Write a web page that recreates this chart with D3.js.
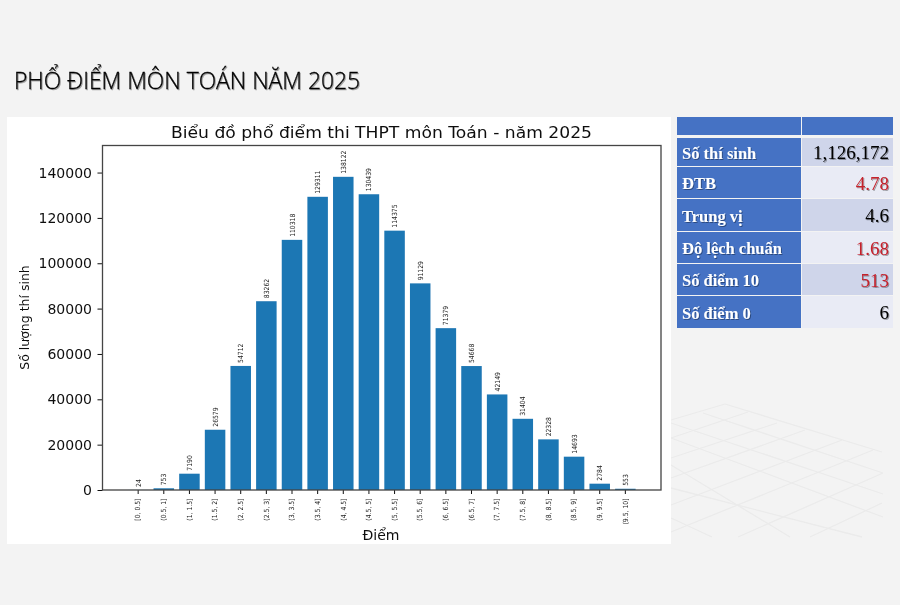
<!DOCTYPE html>
<html><head><meta charset="utf-8">
<script src="https://cdn.jsdelivr.net/npm/d3@7/dist/d3.min.js"></script>
<style>
html,body{margin:0;padding:0;background:#f3f3f3;}
svg{display:block;}
text{font-family:"DejaVu Sans",sans-serif;}
</style></head><body><div id="chart"></div>
<script>
const bins=["[0, 0.5]","(0.5, 1]","(1, 1.5]","(1.5, 2]","(2, 2.5]","(2.5, 3]","(3, 3.5]","(3.5, 4]","(4, 4.5]","(4.5, 5]","(5, 5.5]","(5.5, 6]","(6, 6.5]","(6.5, 7]","(7, 7.5]","(7.5, 8]","(8, 8.5]","(8.5, 9]","(9, 9.5]","(9.5, 10]"];
const counts=[24,753,7190,26579,54712,83262,110318,129311,138122,130439,114375,91129,71379,54668,42149,31404,22328,14693,2784,553];
const yTicks=[0,20000,40000,60000,80000,100000,120000,140000];
const statLabels=["Số thí sinh","ĐTB","Trung vị","Độ lệch chuẩn","Số điểm 10","Số điểm 0"];
const statValues=["1,126,172","4.78","4.6","1.68","513","6"];
const statRed=[false,true,false,true,true,false];
const pageTitle="PHỔ ĐIỂM MÔN TOÁN NĂM 2025";
const chartTitle="Biểu đồ phổ điểm thi THPT môn Toán - năm 2025";

const svg=d3.select("#chart").append("svg").attr("width",900).attr("height",605);
const defs=svg.append("defs");
const blur=defs.append("filter").attr("id","soft").attr("x","-5%").attr("y","-5%").attr("width","110%").attr("height","110%");
blur.append("feGaussianBlur").attr("stdDeviation",0.4);
const sh=defs.append("filter").attr("id","shadow").attr("x","-5%").attr("y","-20%").attr("width","110%").attr("height","140%");
sh.append("feDropShadow").attr("dx",1).attr("dy",1).attr("stdDeviation",0.7).attr("flood-color","#000").attr("flood-opacity",0.35);

svg.append("rect").attr("width",900).attr("height",605).attr("fill","#f3f3f3");

// decorative floor grid
const floor=[[725,404,882,452],[703,413,883,473],[671,423,883,494],[671,438,883,517],[671,465,790,537],[671,488,862,537],[671,518,712,537],
[671,420,725,404],[671,438,748,412],[671,458,777,423],[671,478,805,430],[671,505,842,440],[671,532,873,450],[738,537,883,473],[810,537,882,503]];
svg.append("g").attr("filter","url(#soft)").selectAll("line").data(floor).join("line")
 .attr("x1",d=>d[0]).attr("y1",d=>d[1]).attr("x2",d=>d[2]).attr("y2",d=>d[3])
 .attr("stroke","#ebebeb").attr("stroke-width",1.3);

svg.append("text").text(pageTitle).attr("x",14).attr("y",89)
 .attr("textLength",346).attr("lengthAdjust","spacingAndGlyphs")
 .style("font-family","'Open Sans'").style("font-size","23.5px").style("font-weight",300)
 .attr("fill","#000").attr("stroke","#000").attr("stroke-width",0.3).attr("filter","url(#shadow)");

svg.append("rect").attr("x",7).attr("y",117).attr("width",664).attr("height",427).attr("fill","#fff");

const m={l:102.5,r:661,t:145.5,b:490};
const x=d3.scaleBand().domain(bins).range([m.l,m.r]).paddingInner(0.2).paddingOuter(0.99);
const y=d3.scaleLinear().domain([0,d3.max(counts)*1.1]).range([m.b,m.t]);
const g=svg.append("g").attr("filter","url(#soft)");

g.append("g").selectAll("rect").data(counts).join("rect")
 .attr("x",(d,i)=>x(bins[i])).attr("width",x.bandwidth())
 .attr("y",d=>y(d)).attr("height",d=>m.b-y(d)).attr("fill","#1f77b4");

g.append("g").selectAll("text").data(counts).join("text")
 .attr("transform",(d,i)=>`translate(${x(bins[i])+x.bandwidth()/2+2.5},${y(d)-3}) rotate(-90) scale(0.87,1)`)
 .text(d=>d).style("font-size","7px").attr("fill","#222");

const ax=d3.axisBottom(x).tickSize(4).tickPadding(6);
const gx=g.append("g").attr("transform",`translate(0,${m.b})`).call(ax);
gx.select(".domain").remove();
gx.selectAll("text").attr("transform","translate(0,8.5) rotate(-90) scale(0.87,1)").attr("text-anchor","end").attr("x",0).attr("y",0).attr("dy","0.32em")
 .style("font-size","7px").attr("fill","#222");
gx.selectAll("line").attr("stroke","#111").attr("stroke-width",1);

const ay=d3.axisLeft(y).tickValues(yTicks).tickFormat(d3.format("d")).tickSize(5).tickPadding(5.5);
const gy=g.append("g").attr("transform",`translate(${m.l},0)`).call(ay);
gy.select(".domain").remove();
gy.selectAll("text").style("font-size","14px").attr("fill","#111");
gy.selectAll("line").attr("stroke","#111").attr("stroke-width",1);

g.append("rect").attr("x",m.l).attr("y",m.t).attr("width",m.r-m.l).attr("height",m.b-m.t)
 .attr("fill","none").attr("stroke","#444").attr("stroke-width",1.3);

g.append("text").text(chartTitle).attr("x",381.5).attr("y",138).attr("text-anchor","middle")
 .attr("textLength",421).attr("lengthAdjust","spacingAndGlyphs").style("font-size","15.5px").attr("fill","#111");
g.append("text").text("Điểm").attr("x",381).attr("y",540).attr("text-anchor","middle").style("font-size","14px").attr("fill","#111");
g.append("text").text("Số lượng thí sinh").attr("transform","translate(29,317.5) rotate(-90)").attr("text-anchor","middle").style("font-size","12.5px").attr("fill","#111");

// stats table
const rowEdges=[138,167,199,232,264,296,329];
const t=svg.append("g").attr("filter","url(#soft)");
t.append("rect").attr("x",677).attr("y",117).attr("width",124).attr("height",18).attr("fill","#4472c4");
t.append("rect").attr("x",802).attr("y",117).attr("width",91).attr("height",18).attr("fill","#4472c4");
statLabels.forEach((s,i)=>{
 const y0=rowEdges[i],h=rowEdges[i+1]-y0-1;
 t.append("rect").attr("x",677).attr("y",y0).attr("width",124).attr("height",h).attr("fill","#4472c4");
 t.append("rect").attr("x",802).attr("y",y0).attr("width",91).attr("height",h).attr("fill",i%2?"#e9ebf5":"#cfd5ea");
 t.append("text").text(s).attr("x",682).attr("y",y0+h/2+6.5)
  .style("font-family","'Liberation Serif'").style("font-weight",700).style("font-size","16.5px").attr("fill","#fff").attr("filter","url(#shadow)");
 t.append("text").text(statValues[i]).attr("x",889).attr("y",y0+h/2+7).attr("text-anchor","end")
  .style("font-family","'Liberation Serif'").style("font-size","19px").attr("fill",statRed[i]?"#c4202c":"#000").attr("filter","url(#shadow)");
});
</script></body></html>
